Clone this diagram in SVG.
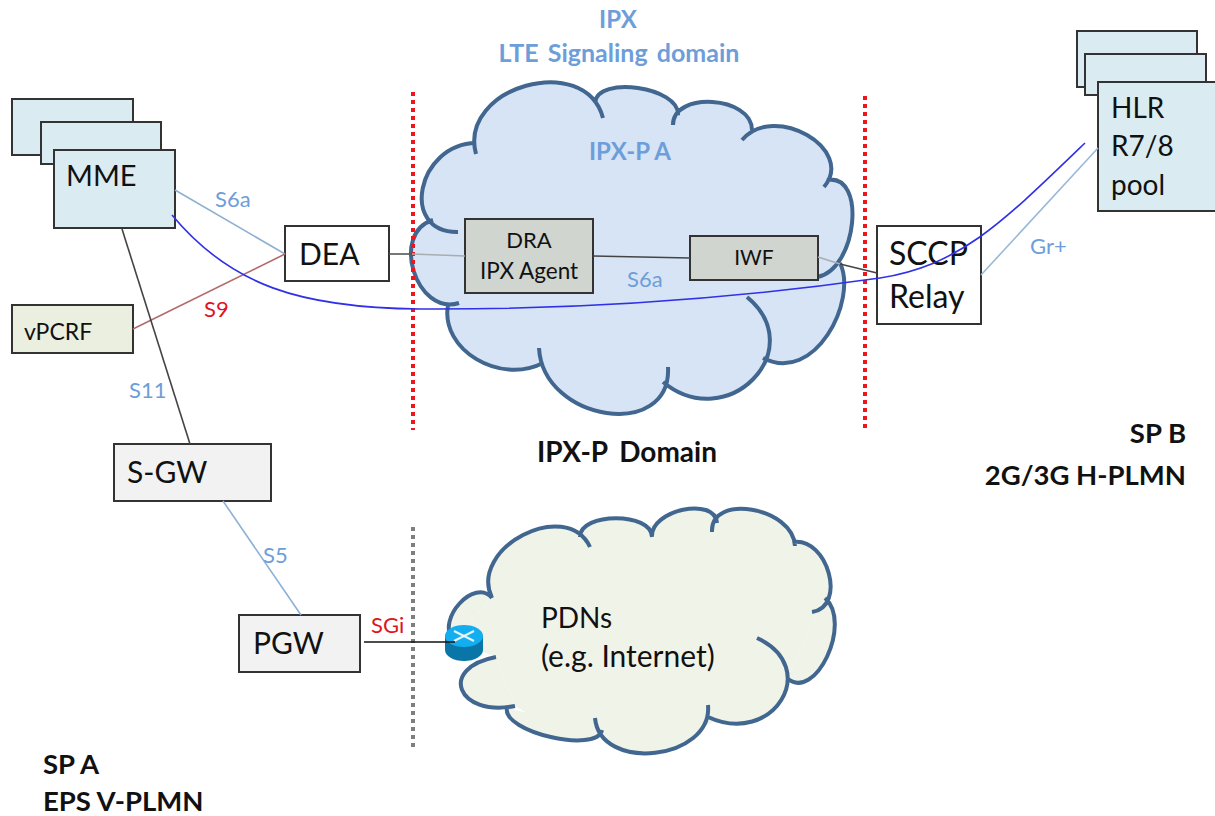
<svg xmlns="http://www.w3.org/2000/svg" width="1215" height="816" viewBox="0 0 1215 816">
<style>
text{font-family:Lato,"Liberation Sans",sans-serif;fill:#111}
.b{font-weight:700}
.blue{fill:#6d9eda}
.red{fill:#e0141c}
.s{font-size:22px}
.l{font-size:30px}
.box{stroke:#333;stroke-width:2}
.lb{fill:#daecf2}
.gy{fill:#f2f2f2}
.ag{fill:#d0d5d0}
.w{fill:#fff}
.c{fill:none;stroke:#41668f;stroke-width:4;stroke-linecap:butt}
.ln{fill:none;stroke-width:1.6}
</style>
<defs>
<path id="big" d="M458,232C399,233 417,144 476,143M476,154C458,87 585,51 603,118M595,103C597,75 680,87 678,115M673,125C673,91 752,96 752,130M742,140C774,102 856,149 824,187M827,180C867,173 857,270 817,277M840,263C858,300 815,385 763,358M747,297C811,350 727,435 663,382M668,367C672,441 543,422 539,348M543,363C500,385 440,350 448,305M459,303C416,316 390,233 433,220"/>
<path id="small" d="M515,706C457,717 438,668 496,657M453,640C436,619 475,577 492,598M492,598C468,548 566,497 590,547M580,537C580,512 652,512 652,537M652,537C650,510 715,496 717,523M712,532C710,493 793,507 795,546M793,542C828,537 847,607 812,612M825,598C853,623 815,703 787,678M757,638C822,668 773,747 708,717M708,705C713,760 600,773 595,718M602,730C597,754 502,732 507,708"/>
</defs>
<rect width="1215" height="816" fill="#fff"/>
<g id="cloud-ipx">
<polygon fill="#d7e4f5" points="433,220 476,143 540,110 595,103 640,105 678,115 715,115 752,130 790,145 827,180 840,263 815,340 763,358 700,385 663,382 600,395 543,363 480,345 448,305"/>
<use href="#big" fill="#d7e4f5"/>
<use href="#big" class="c"/>
</g>
<g id="cloud-pdn">
<polygon fill="#f0f4e8" points="515,706 496,657 453,640 492,598 540,540 600,525 652,525 717,515 795,546 825,598 787,678 708,725 650,740 600,735 555,730"/>
<use href="#small" fill="#f0f4e8"/>
<use href="#small" class="c"/>
</g>
<g id="separators" fill="none">
<path d="M413,92V430M865,96V432" stroke="#f0141c" stroke-width="4" stroke-dasharray="4 4"/>
<path d="M413,527V750" stroke="#7f7f7f" stroke-width="4" stroke-dasharray="4 4"/>
</g>
<g id="mme"><rect class="box lb" x="12" y="99" width="121" height="56"/><rect class="box lb" x="41" y="122" width="120" height="42"/><rect class="box lb" x="54" y="150" width="121" height="78"/><text x="66" y="186" font-size="29">MME</text></g>
<g id="dea"><rect class="box w" x="285" y="226" width="104" height="55"/><text x="299" y="265" class="l">DEA</text></g>
<g id="vpcrf"><rect class="box" fill="#ebefdf" x="12" y="305" width="121" height="48"/><text x="24" y="340" font-size="23">vPCRF</text></g>
<g id="sgw"><rect class="box gy" x="114" y="444" width="157" height="57"/><text x="127" y="483" class="l">S-GW</text></g>
<g id="pgw"><rect class="box gy" x="239" y="615" width="121" height="57"/><text x="253" y="654" class="l">PGW</text></g>
<g id="dra"><rect class="box ag" x="465" y="219" width="128" height="74"/><text x="529" y="248" text-anchor="middle" font-size="22">DRA</text><text x="529" y="279" text-anchor="middle" font-size="22.5">IPX Agent</text></g>
<g id="iwf"><rect class="box ag" x="690" y="236" width="128" height="44"/><text x="754" y="265" text-anchor="middle" font-size="21">IWF</text></g>
<g id="sccp"><rect class="box w" x="877" y="226" width="104" height="98"/><text x="889" y="265" font-size="32">SCCP</text><text x="889" y="308" font-size="32">Relay</text></g>
<g id="hlr"><rect class="box lb" x="1077" y="31" width="120" height="56"/><rect class="box lb" x="1085" y="54" width="121" height="41"/><rect class="box lb" x="1098" y="82" width="120" height="129"/><text x="1111" y="118" font-size="28">HLR</text><text x="1111" y="156" font-size="28">R7/8</text><text x="1111" y="195" font-size="28">pool</text></g>
<g id="router">
<path d="M445,636V650A19,11 0 0 0 483,650V636Z" fill="#0a76a8"/>
<ellipse cx="464" cy="636" rx="19" ry="11" fill="#12aef0"/>
<path d="M454,631L474,641M474,631L454,641" stroke="#e8f4fa" stroke-width="2"/>
</g>
<g id="connectors">
<path class="ln" stroke="#8fb0d0" d="M175,190L285,254"/>
<path class="ln" stroke="#b56a6a" d="M133,329L285,254"/>
<path class="ln" stroke="#444" d="M122,229L190,444"/>
<path class="ln" stroke="#8fb0d6" d="M223,501L301,615"/>
<path class="ln" stroke="#111" d="M364,642H455"/>
<path class="ln" stroke="#555" d="M389,254H412"/>
<path class="ln" stroke="#a8adb0" d="M412,254L465,256"/>
<path class="ln" stroke="#444" d="M593,256L690,258"/>
<path class="ln" stroke="#a8adb0" d="M818,257L840,264"/>
<path class="ln" stroke="#444" d="M840,264L877,273"/>
<path class="ln" stroke="#9ab8d8" d="M981,275L1098,148"/>
<path class="ln" stroke="#3030e8" d="M172,215C230,285 300,308 420,309C600,310 760,295 880,278C960,265 1000,225 1085,143"/>
</g>
<g id="labels">
<text x="618" y="28" text-anchor="middle" class="b blue" font-size="24">IPX</text>
<text x="619" y="62" text-anchor="middle" class="b blue" font-size="25" word-spacing="3">LTE Signaling domain</text>
<text x="630" y="160" text-anchor="middle" class="b blue" font-size="24">IPX-P A</text>
<text x="215" y="207" class="s blue">S6a</text>
<text x="204" y="317" class="s red">S9</text>
<text x="129" y="398" class="s blue">S11</text>
<text x="263" y="563" class="s blue">S5</text>
<text x="371" y="633" class="s red">SGi</text>
<text x="627" y="287" class="s blue">S6a</text>
<text x="1030" y="254" class="s blue">Gr+</text>
<text x="537" y="462" class="b" font-size="28" word-spacing="5">IPX-P Domain</text>
<text x="1186" y="443" text-anchor="end" class="b" font-size="27.5">SP B</text>
<text x="1186" y="485" text-anchor="end" class="b" font-size="27.5">2G/3G H-PLMN</text>
<text x="43" y="774" class="b" font-size="27.5">SP A</text>
<text x="43" y="811" class="b" font-size="27.5">EPS V-PLMN</text>
<text x="541" y="628" font-size="28">PDNs</text>
<text x="541" y="667" font-size="30">(e.g. Internet)</text>
</g>
</svg>
